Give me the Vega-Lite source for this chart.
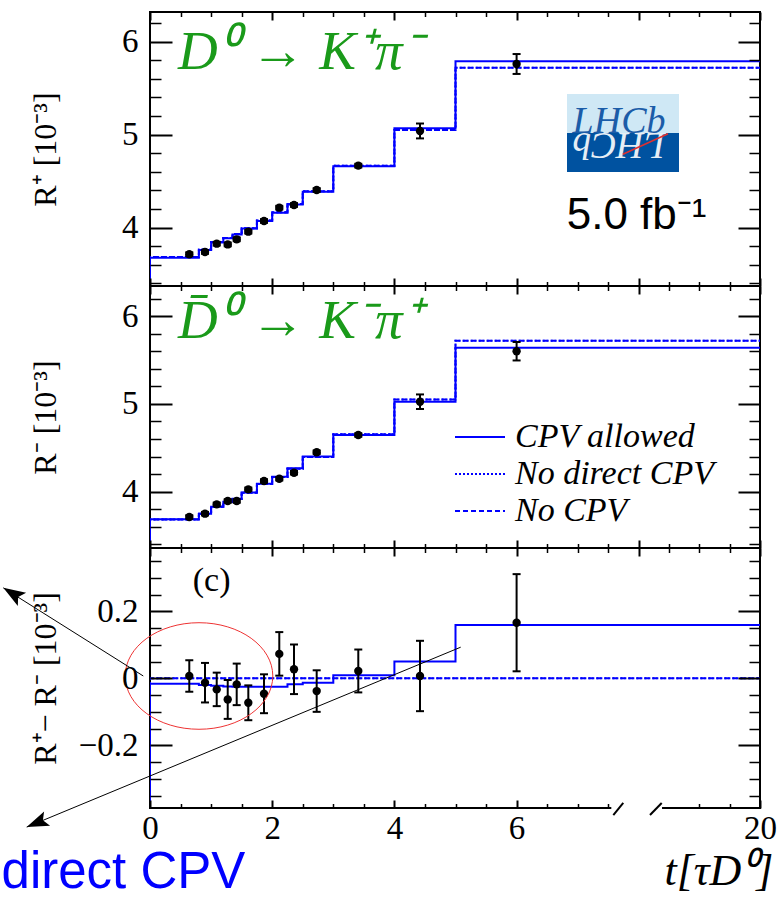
{
"$schema":"https://vega.github.io/schema/vega-lite/v6.json",
"background":"white",
"padding":{"left":0,"top":10,"right":0,"bottom":0},
"autosize":{"type":"pad"},
"spacing":0,
"bounds":"flush",
"resolve":{"legend":{"strokeDash":"independent"}},
"config":{"view":{"stroke":"black","strokeWidth":2},"text":{"font":"Liberation Serif, Times New Roman, serif"}},
"datasets":{
"one":[{}],
"steps_top":[
{"model":"CPV allowed","i":0,"t":0,"v":3.373},{"model":"CPV allowed","i":1,"t":0,"v":3.677},{"model":"CPV allowed","i":2,"t":0.8,"v":3.76},{"model":"CPV allowed","i":3,"t":1.0,"v":3.84},{"model":"CPV allowed","i":4,"t":1.2,"v":3.886},{"model":"CPV allowed","i":5,"t":1.35,"v":3.928},{"model":"CPV allowed","i":6,"t":1.5,"v":3.99},{"model":"CPV allowed","i":7,"t":1.75,"v":4.072},{"model":"CPV allowed","i":8,"t":2.0,"v":4.16},{"model":"CPV allowed","i":9,"t":2.25,"v":4.25},{"model":"CPV allowed","i":10,"t":2.5,"v":4.387},{"model":"CPV allowed","i":11,"t":3.0,"v":4.66},{"model":"CPV allowed","i":12,"t":4.0,"v":5.07},{"model":"CPV allowed","i":13,"t":5.0,"v":5.79},{"model":"CPV allowed","i":14,"t":20,"v":5.79},
{"model":"No direct CPV","i":0,"t":0,"v":3.373},{"model":"No direct CPV","i":1,"t":0,"v":3.685},{"model":"No direct CPV","i":2,"t":0.8,"v":3.765},{"model":"No direct CPV","i":3,"t":1.0,"v":3.845},{"model":"No direct CPV","i":4,"t":1.2,"v":3.89},{"model":"No direct CPV","i":5,"t":1.35,"v":3.932},{"model":"No direct CPV","i":6,"t":1.5,"v":3.995},{"model":"No direct CPV","i":7,"t":1.75,"v":4.076},{"model":"No direct CPV","i":8,"t":2.0,"v":4.165},{"model":"No direct CPV","i":9,"t":2.25,"v":4.255},{"model":"No direct CPV","i":10,"t":2.5,"v":4.393},{"model":"No direct CPV","i":11,"t":3.0,"v":4.665},{"model":"No direct CPV","i":12,"t":4.0,"v":5.05},{"model":"No direct CPV","i":13,"t":5.0,"v":5.72},{"model":"No direct CPV","i":14,"t":20,"v":5.72},
{"model":"No CPV","i":0,"t":0,"v":3.373},{"model":"No CPV","i":1,"t":0,"v":3.685},{"model":"No CPV","i":2,"t":0.8,"v":3.765},{"model":"No CPV","i":3,"t":1.0,"v":3.845},{"model":"No CPV","i":4,"t":1.2,"v":3.89},{"model":"No CPV","i":5,"t":1.35,"v":3.932},{"model":"No CPV","i":6,"t":1.5,"v":3.995},{"model":"No CPV","i":7,"t":1.75,"v":4.076},{"model":"No CPV","i":8,"t":2.0,"v":4.165},{"model":"No CPV","i":9,"t":2.25,"v":4.255},{"model":"No CPV","i":10,"t":2.5,"v":4.393},{"model":"No CPV","i":11,"t":3.0,"v":4.665},{"model":"No CPV","i":12,"t":4.0,"v":5.05},{"model":"No CPV","i":13,"t":5.0,"v":5.72},{"model":"No CPV","i":14,"t":20,"v":5.72}
],
"steps_mid":[
{"model":"CPV allowed","i":0,"t":0,"v":3.359},{"model":"CPV allowed","i":1,"t":0,"v":3.686},{"model":"CPV allowed","i":2,"t":0.8,"v":3.75},{"model":"CPV allowed","i":3,"t":1.0,"v":3.83},{"model":"CPV allowed","i":4,"t":1.2,"v":3.886},{"model":"CPV allowed","i":5,"t":1.35,"v":3.92},{"model":"CPV allowed","i":6,"t":1.5,"v":3.99},{"model":"CPV allowed","i":7,"t":1.75,"v":4.09},{"model":"CPV allowed","i":8,"t":2.0,"v":4.17},{"model":"CPV allowed","i":9,"t":2.25,"v":4.266},{"model":"CPV allowed","i":10,"t":2.5,"v":4.40},{"model":"CPV allowed","i":11,"t":3.0,"v":4.646},{"model":"CPV allowed","i":12,"t":4.0,"v":5.025},{"model":"CPV allowed","i":13,"t":5.0,"v":5.64},{"model":"CPV allowed","i":14,"t":20,"v":5.64},
{"model":"No direct CPV","i":0,"t":0,"v":3.359},{"model":"No direct CPV","i":1,"t":0,"v":3.684},{"model":"No direct CPV","i":2,"t":0.8,"v":3.748},{"model":"No direct CPV","i":3,"t":1.0,"v":3.828},{"model":"No direct CPV","i":4,"t":1.2,"v":3.884},{"model":"No direct CPV","i":5,"t":1.35,"v":3.918},{"model":"No direct CPV","i":6,"t":1.5,"v":3.988},{"model":"No direct CPV","i":7,"t":1.75,"v":4.088},{"model":"No direct CPV","i":8,"t":2.0,"v":4.168},{"model":"No direct CPV","i":9,"t":2.25,"v":4.262},{"model":"No direct CPV","i":10,"t":2.5,"v":4.395},{"model":"No direct CPV","i":11,"t":3.0,"v":4.655},{"model":"No direct CPV","i":12,"t":4.0,"v":5.05},{"model":"No direct CPV","i":13,"t":5.0,"v":5.72},{"model":"No direct CPV","i":14,"t":20,"v":5.72},
{"model":"No CPV","i":0,"t":0,"v":3.359},{"model":"No CPV","i":1,"t":0,"v":3.684},{"model":"No CPV","i":2,"t":0.8,"v":3.748},{"model":"No CPV","i":3,"t":1.0,"v":3.828},{"model":"No CPV","i":4,"t":1.2,"v":3.884},{"model":"No CPV","i":5,"t":1.35,"v":3.918},{"model":"No CPV","i":6,"t":1.5,"v":3.988},{"model":"No CPV","i":7,"t":1.75,"v":4.088},{"model":"No CPV","i":8,"t":2.0,"v":4.168},{"model":"No CPV","i":9,"t":2.25,"v":4.262},{"model":"No CPV","i":10,"t":2.5,"v":4.395},{"model":"No CPV","i":11,"t":3.0,"v":4.655},{"model":"No CPV","i":12,"t":4.0,"v":5.05},{"model":"No CPV","i":13,"t":5.0,"v":5.72},{"model":"No CPV","i":14,"t":20,"v":5.72}
],
"steps_bot":[
{"model":"CPV allowed","i":0,"t":0,"v":-0.387},{"model":"CPV allowed","i":1,"t":0,"v":-0.016},{"model":"CPV allowed","i":2,"t":0.8,"v":-0.02},{"model":"CPV allowed","i":3,"t":1.0,"v":-0.022},{"model":"CPV allowed","i":4,"t":1.2,"v":-0.024},{"model":"CPV allowed","i":5,"t":1.35,"v":-0.025},{"model":"CPV allowed","i":6,"t":1.5,"v":-0.025},{"model":"CPV allowed","i":7,"t":1.75,"v":-0.025},{"model":"CPV allowed","i":8,"t":2.0,"v":-0.025},{"model":"CPV allowed","i":9,"t":2.25,"v":-0.018},{"model":"CPV allowed","i":10,"t":2.5,"v":-0.013},{"model":"CPV allowed","i":11,"t":3.0,"v":0.009},{"model":"CPV allowed","i":12,"t":4.0,"v":0.05},{"model":"CPV allowed","i":13,"t":5.0,"v":0.159},{"model":"CPV allowed","i":14,"t":20,"v":0.159},
{"model":"No direct CPV","i":0,"t":0,"v":-0.387},{"model":"No direct CPV","i":1,"t":0,"v":0},{"model":"No direct CPV","i":2,"t":0.8,"v":0},{"model":"No direct CPV","i":3,"t":1.0,"v":0},{"model":"No direct CPV","i":4,"t":1.2,"v":0},{"model":"No direct CPV","i":5,"t":1.35,"v":0},{"model":"No direct CPV","i":6,"t":1.5,"v":0},{"model":"No direct CPV","i":7,"t":1.75,"v":0},{"model":"No direct CPV","i":8,"t":2.0,"v":0},{"model":"No direct CPV","i":9,"t":2.25,"v":0},{"model":"No direct CPV","i":10,"t":2.5,"v":0},{"model":"No direct CPV","i":11,"t":3.0,"v":0},{"model":"No direct CPV","i":12,"t":4.0,"v":0},{"model":"No direct CPV","i":13,"t":5.0,"v":0},{"model":"No direct CPV","i":14,"t":20,"v":0},
{"model":"No CPV","i":0,"t":0,"v":-0.387},{"model":"No CPV","i":1,"t":0,"v":0},{"model":"No CPV","i":2,"t":0.8,"v":0},{"model":"No CPV","i":3,"t":1.0,"v":0},{"model":"No CPV","i":4,"t":1.2,"v":0},{"model":"No CPV","i":5,"t":1.35,"v":0},{"model":"No CPV","i":6,"t":1.5,"v":0},{"model":"No CPV","i":7,"t":1.75,"v":0},{"model":"No CPV","i":8,"t":2.0,"v":0},{"model":"No CPV","i":9,"t":2.25,"v":0},{"model":"No CPV","i":10,"t":2.5,"v":0},{"model":"No CPV","i":11,"t":3.0,"v":0},{"model":"No CPV","i":12,"t":4.0,"v":0},{"model":"No CPV","i":13,"t":5.0,"v":0},{"model":"No CPV","i":14,"t":20,"v":0}
],
"pts_top":[
{"t":0.643,"v":3.714,"lo":3.694,"hi":3.734},{"t":0.9,"v":3.739,"lo":3.719,"hi":3.759},{"t":1.092,"v":3.828,"lo":3.808,"hi":3.848},{"t":1.272,"v":3.82,"lo":3.80,"hi":3.84},{"t":1.419,"v":3.875,"lo":3.855,"hi":3.895},{"t":1.609,"v":3.957,"lo":3.937,"hi":3.977},{"t":1.866,"v":4.072,"lo":4.052,"hi":4.092},{"t":2.116,"v":4.215,"lo":4.195,"hi":4.235},{"t":2.357,"v":4.244,"lo":4.224,"hi":4.264},{"t":2.728,"v":4.405,"lo":4.385,"hi":4.425},{"t":3.409,"v":4.667,"lo":4.647,"hi":4.687},{"t":4.419,"v":5.04,"lo":4.96,"hi":5.12},{"t":6.0,"v":5.76,"lo":5.653,"hi":5.867}
],
"pts_mid":[
{"t":0.643,"v":3.712,"lo":3.692,"hi":3.732},{"t":0.9,"v":3.75,"lo":3.73,"hi":3.77},{"t":1.092,"v":3.856,"lo":3.836,"hi":3.876},{"t":1.272,"v":3.894,"lo":3.874,"hi":3.914},{"t":1.419,"v":3.894,"lo":3.874,"hi":3.914},{"t":1.609,"v":4.027,"lo":4.007,"hi":4.047},{"t":1.866,"v":4.122,"lo":4.102,"hi":4.142},{"t":2.116,"v":4.148,"lo":4.128,"hi":4.168},{"t":2.357,"v":4.216,"lo":4.196,"hi":4.236},{"t":2.728,"v":4.449,"lo":4.429,"hi":4.469},{"t":3.409,"v":4.646,"lo":4.626,"hi":4.666},{"t":4.419,"v":5.025,"lo":4.942,"hi":5.108},{"t":6.0,"v":5.60,"lo":5.495,"hi":5.705}
],
"pts_bot":[
{"t":0.643,"v":0.007,"lo":-0.04,"hi":0.054},{"t":0.9,"v":-0.013,"lo":-0.072,"hi":0.046},{"t":1.092,"v":-0.033,"lo":-0.083,"hi":0.017},{"t":1.272,"v":-0.063,"lo":-0.121,"hi":-0.005},{"t":1.419,"v":-0.018,"lo":-0.08,"hi":0.044},{"t":1.609,"v":-0.073,"lo":-0.125,"hi":-0.021},{"t":1.866,"v":-0.046,"lo":-0.104,"hi":0.012},{"t":2.116,"v":0.073,"lo":0.008,"hi":0.138},{"t":2.357,"v":0.027,"lo":-0.047,"hi":0.101},{"t":2.728,"v":-0.038,"lo":-0.1,"hi":0.024},{"t":3.409,"v":0.022,"lo":-0.042,"hi":0.086},{"t":4.419,"v":0.007,"lo":-0.098,"hi":0.112},{"t":6.0,"v":0.166,"lo":0.021,"hi":0.311}
]
},
"vconcat":[
{
"width":610,"height":274,
"layer":[
{"data":{"name":"steps_top"},"mark":{"type":"line","interpolate":"step-after","strokeWidth":2,"color":"#0000ff","clip":true},
 "encoding":{
  "x":{"field":"t","type":"quantitative","scale":{"domain":[0,8,20],"range":[0,488.8,610],"nice":false,"zero":false},"axis":{"orient":"bottom","values":[0,2,4,6,8,20],"tickSize":-8,"tickWidth":2,"tickColor":"black","labels":false,"domain":false,"grid":false,"title":null,"zindex":1}},
  "y":{"field":"v","type":"quantitative","scale":{"domain":[3.373,6.319],"nice":false,"zero":false},"axis":{"orient":"left","values":[4,5,6],"tickSize":-22,"tickWidth":2,"tickColor":"black","labels":true,"labelFont":"Liberation Serif, Times New Roman, serif","labelFontSize":33,"labelColor":"black","labelPadding":34,"format":"d","domain":false,"grid":false,"zindex":1,"title":"R⁺ [10⁻³]","titleFont":"Liberation Serif, Times New Roman, serif","titleFontSize":32,"titleFontWeight":"normal","titleColor":"black","titleX":-105,"titleY":137,"titleAngle":-90,"titleAlign":"center","titleBaseline":"middle"}},
  "strokeDash":{"field":"model","type":"nominal","scale":{"domain":["CPV allowed","No direct CPV","No CPV"],"range":[[1,0],[2,2],[5,3]]},"legend":null},
  "order":{"field":"i","type":"quantitative"}}},
{"data":{"name":"pts_top"},"mark":{"type":"rule","strokeWidth":2,"color":"black"},
 "encoding":{
  "x":{"field":"t","type":"quantitative","scale":{"domain":[0,8,20],"range":[0,488.8,610],"nice":false,"zero":false},"axis":{"orient":"top","values":[0,2,4,6,8,20],"tickSize":-8,"tickWidth":2,"tickColor":"black","labels":false,"domain":false,"grid":false,"title":null,"zindex":1}},
  "y":{"field":"lo","type":"quantitative","scale":{"domain":[3.373,6.319],"nice":false,"zero":false},"axis":{"orient":"right","values":[4,5,6],"tickSize":-22,"tickWidth":2,"tickColor":"black","labels":false,"domain":false,"grid":false,"title":null,"zindex":1}},
  "y2":{"field":"hi"}}},
{"data":{"name":"pts_top"},"mark":{"type":"tick","orient":"horizontal","size":8,"thickness":2,"color":"black","opacity":1},
 "encoding":{
  "x":{"field":"t","type":"quantitative","scale":{"domain":[0,8,20],"range":[0,488.8,610],"nice":false,"zero":false},"axis":{"orient":"bottom","values":[0.5,1,1.5,2.5,3,3.5,4.5,5,5.5,6.5,7,7.5,11,14,17],"tickSize":-4.5,"tickWidth":1.5,"tickColor":"black","labels":false,"domain":false,"grid":false,"title":null,"zindex":1}},
  "y":{"field":"lo","type":"quantitative","scale":{"domain":[3.373,6.319],"nice":false,"zero":false},"axis":{"orient":"left","values":[3.4,3.6,3.8,4.2,4.4,4.6,4.8,5.2,5.4,5.6,5.8,6.2],"tickSize":-11,"tickWidth":1.5,"tickColor":"black","labels":false,"domain":false,"grid":false,"title":null,"zindex":1}}}},
{"data":{"name":"pts_top"},"mark":{"type":"tick","orient":"horizontal","size":8,"thickness":2,"color":"black","opacity":1},
 "encoding":{
  "x":{"field":"t","type":"quantitative","scale":{"domain":[0,8,20],"range":[0,488.8,610],"nice":false,"zero":false},"axis":{"orient":"top","values":[0.5,1,1.5,2.5,3,3.5,4.5,5,5.5,6.5,7,7.5,11,14,17],"tickSize":-4.5,"tickWidth":1.5,"tickColor":"black","labels":false,"domain":false,"grid":false,"title":null,"zindex":1}},
  "y":{"field":"hi","type":"quantitative","scale":{"domain":[3.373,6.319],"nice":false,"zero":false},"axis":{"orient":"right","values":[3.4,3.6,3.8,4.2,4.4,4.6,4.8,5.2,5.4,5.6,5.8,6.2],"tickSize":-11,"tickWidth":1.5,"tickColor":"black","labels":false,"domain":false,"grid":false,"title":null,"zindex":1}}}},
{"data":{"name":"pts_top"},"mark":{"type":"circle","size":70,"color":"black","opacity":1},
 "encoding":{
  "x":{"field":"t","type":"quantitative","scale":{"domain":[0,8,20],"range":[0,488.8,610],"nice":false,"zero":false},"axis":null},
  "y":{"field":"v","type":"quantitative","scale":{"domain":[3.373,6.319],"nice":false,"zero":false},"axis":null}}},
{"data":{"name":"one"},"mark":{"type":"text","text":"D⁰ → K⁺π⁻","font":"Liberation Serif, Times New Roman, serif","fontStyle":"italic","fontSize":55,"color":"#1a9a1a","align":"left","baseline":"alphabetic"},
 "encoding":{"x":{"datum":0.46,"type":"quantitative","scale":{"domain":[0,8,20],"range":[0,488.8,610],"nice":false,"zero":false},"axis":null},"y":{"datum":5.706,"type":"quantitative","scale":{"domain":[3.373,6.319],"nice":false,"zero":false},"axis":null}}},
{"data":{"name":"one"},"mark":{"type":"rect","color":"#cfe8f5"},
 "encoding":{"x":{"datum":6.825,"type":"quantitative","scale":{"domain":[0,8,20],"range":[0,488.8,610],"nice":false,"zero":false},"axis":null},"x2":{"datum":11.98},"y":{"datum":5.018,"type":"quantitative","scale":{"domain":[3.373,6.319],"nice":false,"zero":false},"axis":null},"y2":{"datum":5.438}}},
{"data":{"name":"one"},"mark":{"type":"rect","color":"#0052a0"},
 "encoding":{"x":{"datum":6.825,"type":"quantitative","scale":{"domain":[0,8,20],"range":[0,488.8,610],"nice":false,"zero":false},"axis":null},"x2":{"datum":11.98},"y":{"datum":4.599,"type":"quantitative","scale":{"domain":[3.373,6.319],"nice":false,"zero":false},"axis":null},"y2":{"datum":5.018}}},
{"data":{"name":"one"},"mark":{"type":"text","text":"LHCb","font":"Liberation Serif, Times New Roman, serif","fontStyle":"italic","fontSize":38,"color":"#1b5ca8","align":"center","baseline":"alphabetic"},
 "encoding":{"x":{"datum":7.676,"type":"quantitative","scale":{"domain":[0,8,20],"range":[0,488.8,610],"nice":false,"zero":false},"axis":null},"y":{"datum":5.02,"type":"quantitative","scale":{"domain":[3.373,6.319],"nice":false,"zero":false},"axis":null}}},
{"data":{"name":"one"},"mark":{"type":"text","text":"LHCb","font":"Liberation Serif, Times New Roman, serif","fontStyle":"italic","fontSize":38,"color":"white","opacity":0.9,"align":"center","baseline":"alphabetic","angle":180},
 "encoding":{"x":{"datum":7.676,"type":"quantitative","scale":{"domain":[0,8,20],"range":[0,488.8,610],"nice":false,"zero":false},"axis":null},"y":{"datum":5.016,"type":"quantitative","scale":{"domain":[3.373,6.319],"nice":false,"zero":false},"axis":null}}},
{"data":{"name":"one"},"mark":{"type":"rule","color":"#e03030","strokeWidth":1.5},
 "encoding":{"x":{"datum":7.74,"type":"quantitative","scale":{"domain":[0,8,20],"range":[0,488.8,610],"nice":false,"zero":false},"axis":null},"x2":{"datum":10.89},"y":{"datum":4.79,"type":"quantitative","scale":{"domain":[3.373,6.319],"nice":false,"zero":false},"axis":null},"y2":{"datum":5.01}}},
{"data":{"name":"one"},"mark":{"type":"text","text":"5.0 fb⁻¹","font":"Liberation Sans, Arial, sans-serif","fontSize":44,"color":"black","align":"left","baseline":"alphabetic"},
 "encoding":{"x":{"datum":6.82,"type":"quantitative","scale":{"domain":[0,8,20],"range":[0,488.8,610],"nice":false,"zero":false},"axis":null},"y":{"datum":3.99,"type":"quantitative","scale":{"domain":[3.373,6.319],"nice":false,"zero":false},"axis":null}}}
]
},
{
"width":610,"height":262,
"layer":[
{"data":{"name":"steps_mid"},"mark":{"type":"line","interpolate":"step-after","strokeWidth":2,"color":"#0000ff","clip":true},
 "encoding":{
  "x":{"field":"t","type":"quantitative","scale":{"domain":[0,8,20],"range":[0,488.8,610],"nice":false,"zero":false},"axis":{"orient":"bottom","values":[0,2,4,6,8,20],"tickSize":-8,"tickWidth":2,"tickColor":"black","labels":false,"domain":false,"grid":false,"title":null,"zindex":1}},
  "y":{"field":"v","type":"quantitative","scale":{"domain":[3.359,6.343],"nice":false,"zero":false},"axis":{"orient":"left","values":[4,5,6],"tickSize":-22,"tickWidth":2,"tickColor":"black","labels":true,"labelFont":"Liberation Serif, Times New Roman, serif","labelFontSize":33,"labelColor":"black","labelPadding":34,"format":"d","domain":false,"grid":false,"zindex":1,"title":"R⁻ [10⁻³]","titleFont":"Liberation Serif, Times New Roman, serif","titleFontSize":32,"titleFontWeight":"normal","titleColor":"black","titleX":-105,"titleY":131,"titleAngle":-90,"titleAlign":"center","titleBaseline":"middle"}},
  "strokeDash":{"field":"model","type":"nominal","scale":{"domain":["CPV allowed","No direct CPV","No CPV"],"range":[[1,0],[2,2],[5,3]]},
   "legend":{"orient":"none","legendX":313,"legendY":134,"title":null,"symbolType":"M -5 0 L 5 0","symbolSize":100,"symbolStrokeWidth":2,"symbolStrokeColor":"#0000ff","symbolFillColor":"transparent","labelFont":"Liberation Serif, Times New Roman, serif","labelFontStyle":"italic","labelFontSize":34,"labelColor":"black","labelOffset":18,"labelLimit":500,"rowPadding":3,"padding":0}},
  "order":{"field":"i","type":"quantitative"}}},
{"data":{"name":"pts_mid"},"mark":{"type":"rule","strokeWidth":2,"color":"black"},
 "encoding":{
  "x":{"field":"t","type":"quantitative","scale":{"domain":[0,8,20],"range":[0,488.8,610],"nice":false,"zero":false},"axis":{"orient":"top","values":[0,2,4,6,8,20],"tickSize":-8,"tickWidth":2,"tickColor":"black","labels":false,"domain":false,"grid":false,"title":null,"zindex":1}},
  "y":{"field":"lo","type":"quantitative","scale":{"domain":[3.359,6.343],"nice":false,"zero":false},"axis":{"orient":"right","values":[4,5,6],"tickSize":-22,"tickWidth":2,"tickColor":"black","labels":false,"domain":false,"grid":false,"title":null,"zindex":1}},
  "y2":{"field":"hi"}}},
{"data":{"name":"pts_mid"},"mark":{"type":"tick","orient":"horizontal","size":8,"thickness":2,"color":"black","opacity":1},
 "encoding":{
  "x":{"field":"t","type":"quantitative","scale":{"domain":[0,8,20],"range":[0,488.8,610],"nice":false,"zero":false},"axis":{"orient":"bottom","values":[0.5,1,1.5,2.5,3,3.5,4.5,5,5.5,6.5,7,7.5,11,14,17],"tickSize":-4.5,"tickWidth":1.5,"tickColor":"black","labels":false,"domain":false,"grid":false,"title":null,"zindex":1}},
  "y":{"field":"lo","type":"quantitative","scale":{"domain":[3.359,6.343],"nice":false,"zero":false},"axis":{"orient":"left","values":[3.4,3.6,3.8,4.2,4.4,4.6,4.8,5.2,5.4,5.6,5.8,6.2],"tickSize":-11,"tickWidth":1.5,"tickColor":"black","labels":false,"domain":false,"grid":false,"title":null,"zindex":1}}}},
{"data":{"name":"pts_mid"},"mark":{"type":"tick","orient":"horizontal","size":8,"thickness":2,"color":"black","opacity":1},
 "encoding":{
  "x":{"field":"t","type":"quantitative","scale":{"domain":[0,8,20],"range":[0,488.8,610],"nice":false,"zero":false},"axis":{"orient":"top","values":[0.5,1,1.5,2.5,3,3.5,4.5,5,5.5,6.5,7,7.5,11,14,17],"tickSize":-4.5,"tickWidth":1.5,"tickColor":"black","labels":false,"domain":false,"grid":false,"title":null,"zindex":1}},
  "y":{"field":"hi","type":"quantitative","scale":{"domain":[3.359,6.343],"nice":false,"zero":false},"axis":{"orient":"right","values":[3.4,3.6,3.8,4.2,4.4,4.6,4.8,5.2,5.4,5.6,5.8,6.2],"tickSize":-11,"tickWidth":1.5,"tickColor":"black","labels":false,"domain":false,"grid":false,"title":null,"zindex":1}}}},
{"data":{"name":"pts_mid"},"mark":{"type":"circle","size":70,"color":"black","opacity":1},
 "encoding":{
  "x":{"field":"t","type":"quantitative","scale":{"domain":[0,8,20],"range":[0,488.8,610],"nice":false,"zero":false},"axis":null},
  "y":{"field":"v","type":"quantitative","scale":{"domain":[3.359,6.343],"nice":false,"zero":false},"axis":null}}},
{"data":{"name":"one"},"mark":{"type":"text","text":"D̄⁰ → K⁻π⁺","font":"Liberation Serif, Times New Roman, serif","fontStyle":"italic","fontSize":55,"color":"#1a9a1a","align":"left","baseline":"alphabetic"},
 "encoding":{"x":{"datum":0.46,"type":"quantitative","scale":{"domain":[0,8,20],"range":[0,488.8,610],"nice":false,"zero":false},"axis":null},"y":{"datum":5.754,"type":"quantitative","scale":{"domain":[3.359,6.343],"nice":false,"zero":false},"axis":null}}}
]
},
{
"width":610,"height":260,
"layer":[
{"data":{"name":"steps_bot"},"mark":{"type":"line","interpolate":"step-after","strokeWidth":2,"color":"#0000ff","clip":true},
 "encoding":{
  "x":{"field":"t","type":"quantitative","scale":{"domain":[0,8,20],"range":[0,488.8,610],"nice":false,"zero":false},"axis":{"orient":"bottom","values":[0,2,4,6,20],"tickSize":-8,"tickWidth":2,"tickColor":"black","labels":true,"labelFont":"Liberation Serif, Times New Roman, serif","labelFontSize":33,"labelColor":"black","labelPadding":12,"labelFlush":false,"labelOverlap":false,"domain":false,"grid":false,"zindex":1,"title":"t[τD⁰]","titleFont":"Liberation Serif, Times New Roman, serif","titleFontSize":44,"titleFontStyle":"italic","titleFontWeight":"normal","titleColor":"black","titleAlign":"right","titleAnchor":"end","titleX":623,"titleY":76,"titleBaseline":"alphabetic"}},
  "y":{"field":"v","type":"quantitative","scale":{"domain":[-0.387,0.389],"nice":false,"zero":false},"axis":{"orient":"left","values":[-0.2,0,0.2],"tickSize":-22,"tickWidth":2,"tickColor":"black","labels":true,"labelFont":"Liberation Serif, Times New Roman, serif","labelFontSize":33,"labelColor":"black","labelPadding":34,"labelExpr":"datum.value == 0 ? '0' : format(datum.value, '.1f')","domain":false,"grid":false,"zindex":1,"title":"R⁺− R⁻ [10⁻³]","titleFont":"Liberation Serif, Times New Roman, serif","titleFontSize":32,"titleFontWeight":"normal","titleColor":"black","titleX":-105,"titleY":130,"titleAngle":-90,"titleAlign":"center","titleBaseline":"middle"}},
  "strokeDash":{"field":"model","type":"nominal","scale":{"domain":["CPV allowed","No direct CPV","No CPV"],"range":[[1,0],[2,2],[5,3]]},"legend":null},
  "order":{"field":"i","type":"quantitative"}}},
{"data":{"name":"pts_bot"},"mark":{"type":"rule","strokeWidth":2,"color":"black"},
 "encoding":{
  "x":{"field":"t","type":"quantitative","scale":{"domain":[0,8,20],"range":[0,488.8,610],"nice":false,"zero":false},"axis":{"orient":"top","values":[0,2,4,6,8,20],"tickSize":-8,"tickWidth":2,"tickColor":"black","labels":false,"domain":false,"grid":false,"title":null,"zindex":1}},
  "y":{"field":"lo","type":"quantitative","scale":{"domain":[-0.387,0.389],"nice":false,"zero":false},"axis":{"orient":"right","values":[-0.2,0,0.2],"tickSize":-22,"tickWidth":2,"tickColor":"black","labels":false,"domain":false,"grid":false,"title":null,"zindex":1}},
  "y2":{"field":"hi"}}},
{"data":{"name":"pts_bot"},"mark":{"type":"tick","orient":"horizontal","size":8,"thickness":2,"color":"black","opacity":1},
 "encoding":{
  "x":{"field":"t","type":"quantitative","scale":{"domain":[0,8,20],"range":[0,488.8,610],"nice":false,"zero":false},"axis":{"orient":"bottom","values":[0.5,1,1.5,2.5,3,3.5,4.5,5,5.5,6.5,7,7.5,14,17],"tickSize":-4.5,"tickWidth":1.5,"tickColor":"black","labels":false,"domain":false,"grid":false,"title":null,"zindex":1}},
  "y":{"field":"lo","type":"quantitative","scale":{"domain":[-0.387,0.389],"nice":false,"zero":false},"axis":{"orient":"left","values":[-0.35,-0.3,-0.25,-0.15,-0.1,-0.05,0.05,0.1,0.15,0.25,0.3,0.35],"tickSize":-11,"tickWidth":1.5,"tickColor":"black","labels":false,"domain":false,"grid":false,"title":null,"zindex":1}}}},
{"data":{"name":"pts_bot"},"mark":{"type":"tick","orient":"horizontal","size":8,"thickness":2,"color":"black","opacity":1},
 "encoding":{
  "x":{"field":"t","type":"quantitative","scale":{"domain":[0,8,20],"range":[0,488.8,610],"nice":false,"zero":false},"axis":{"orient":"top","values":[0.5,1,1.5,2.5,3,3.5,4.5,5,5.5,6.5,7,7.5,11,14,17],"tickSize":-4.5,"tickWidth":1.5,"tickColor":"black","labels":false,"domain":false,"grid":false,"title":null,"zindex":1}},
  "y":{"field":"hi","type":"quantitative","scale":{"domain":[-0.387,0.389],"nice":false,"zero":false},"axis":{"orient":"right","values":[-0.35,-0.3,-0.25,-0.15,-0.1,-0.05,0.05,0.1,0.15,0.25,0.3,0.35],"tickSize":-11,"tickWidth":1.5,"tickColor":"black","labels":false,"domain":false,"grid":false,"title":null,"zindex":1}}}},
{"data":{"name":"pts_bot"},"mark":{"type":"circle","size":70,"color":"black","opacity":1},
 "encoding":{
  "x":{"field":"t","type":"quantitative","scale":{"domain":[0,8,20],"range":[0,488.8,610],"nice":false,"zero":false},"axis":null},
  "y":{"field":"v","type":"quantitative","scale":{"domain":[-0.387,0.389],"nice":false,"zero":false},"axis":null}}},
{"data":{"name":"one"},"mark":{"type":"text","text":"(c)","font":"Liberation Serif, Times New Roman, serif","fontSize":34,"color":"black","align":"left","baseline":"alphabetic"},
 "encoding":{"x":{"datum":0.70,"type":"quantitative","scale":{"domain":[0,8,20],"range":[0,488.8,610],"nice":false,"zero":false},"axis":null},"y":{"datum":0.261,"type":"quantitative","scale":{"domain":[-0.387,0.389],"nice":false,"zero":false},"axis":null}}},
{"data":{"name":"one"},"mark":{"type":"point","shape":"M 1 0 C 1 0.3988 0.5523 0.722 0 0.722 C -0.5523 0.722 -1 0.3988 -1 0 C -1 -0.3988 -0.5523 -0.722 0 -0.722 C 0.5523 -0.722 1 -0.3988 1 0 Z","size":21786,"filled":false,"color":"#ee3333","strokeWidth":1,"opacity":1},
 "encoding":{"x":{"datum":0.802,"type":"quantitative","scale":{"domain":[0,8,20],"range":[0,488.8,610],"nice":false,"zero":false},"axis":null},"y":{"datum":0.007,"type":"quantitative","scale":{"domain":[-0.387,0.389],"nice":false,"zero":false},"axis":null}}},
{"data":{"name":"one"},"mark":{"type":"rule","color":"black","strokeWidth":1},
 "encoding":{"x":{"datum":-0.110,"type":"quantitative","scale":{"domain":[0,8,20],"range":[0,488.8,610],"nice":false,"zero":false},"axis":null},"x2":{"datum":-2.401},"y":{"datum":0.007,"type":"quantitative","scale":{"domain":[-0.387,0.389],"nice":false,"zero":false},"axis":null},"y2":{"datum":0.270}}},
{"data":{"name":"one"},"mark":{"type":"rule","color":"black","strokeWidth":1},
 "encoding":{"x":{"datum":5.085,"type":"quantitative","scale":{"domain":[0,8,20],"range":[0,488.8,610],"nice":false,"zero":false},"axis":null},"x2":{"datum":-2.018},"y":{"datum":0.093,"type":"quantitative","scale":{"domain":[-0.387,0.389],"nice":false,"zero":false},"axis":null},"y2":{"datum":-0.444}}},
{"data":{"name":"one"},"mark":{"type":"point","shape":"M 0 -1 L 0.6 0.7 L 0 0.35 L -0.6 0.7 Z","size":676,"filled":true,"color":"black","opacity":1,"angle":302.3},
 "encoding":{"x":{"datum":-2.221,"type":"quantitative","scale":{"domain":[0,8,20],"range":[0,488.8,610],"nice":false,"zero":false},"axis":null},"y":{"datum":0.25,"type":"quantitative","scale":{"domain":[-0.387,0.389],"nice":false,"zero":false},"axis":null}}},
{"data":{"name":"one"},"mark":{"type":"point","shape":"M 0 -1 L 0.6 0.7 L 0 0.35 L -0.6 0.7 Z","size":676,"filled":true,"color":"black","opacity":1,"angle":247.5},
 "encoding":{"x":{"datum":-1.822,"type":"quantitative","scale":{"domain":[0,8,20],"range":[0,488.8,610],"nice":false,"zero":false},"axis":null},"y":{"datum":-0.429,"type":"quantitative","scale":{"domain":[-0.387,0.389],"nice":false,"zero":false},"axis":null}}},
{"data":{"name":"one"},"mark":{"type":"rect","color":"white"},
 "encoding":{"x":{"datum":7.55,"type":"quantitative","scale":{"domain":[0,8,20],"range":[0,488.8,610],"nice":false,"zero":false},"axis":null},"x2":{"datum":10.3},"y":{"datum":-0.396,"type":"quantitative","scale":{"domain":[-0.387,0.389],"nice":false,"zero":false},"axis":null},"y2":{"datum":-0.378}}},
{"data":{"name":"one"},"mark":{"type":"rule","color":"black","strokeWidth":2},
 "encoding":{"x":{"datum":7.583,"type":"quantitative","scale":{"domain":[0,8,20],"range":[0,488.8,610],"nice":false,"zero":false},"axis":null},"x2":{"datum":7.746},"y":{"datum":-0.408,"type":"quantitative","scale":{"domain":[-0.387,0.389],"nice":false,"zero":false},"axis":null},"y2":{"datum":-0.372}}},
{"data":{"name":"one"},"mark":{"type":"rule","color":"black","strokeWidth":2},
 "encoding":{"x":{"datum":9.109,"type":"quantitative","scale":{"domain":[0,8,20],"range":[0,488.8,610],"nice":false,"zero":false},"axis":null},"x2":{"datum":10.267},"y":{"datum":-0.408,"type":"quantitative","scale":{"domain":[-0.387,0.389],"nice":false,"zero":false},"axis":null},"y2":{"datum":-0.372}}},
{"data":{"name":"one"},"mark":{"type":"text","text":"direct CPV","font":"Liberation Sans, Arial, sans-serif","fontSize":51,"color":"#0000ff","align":"left","baseline":"alphabetic"},
 "encoding":{"x":{"datum":-2.43,"type":"quantitative","scale":{"domain":[0,8,20],"range":[0,488.8,610],"nice":false,"zero":false},"axis":null},"y":{"datum":-0.627,"type":"quantitative","scale":{"domain":[-0.387,0.389],"nice":false,"zero":false},"axis":null}}}
]
}
]
}
